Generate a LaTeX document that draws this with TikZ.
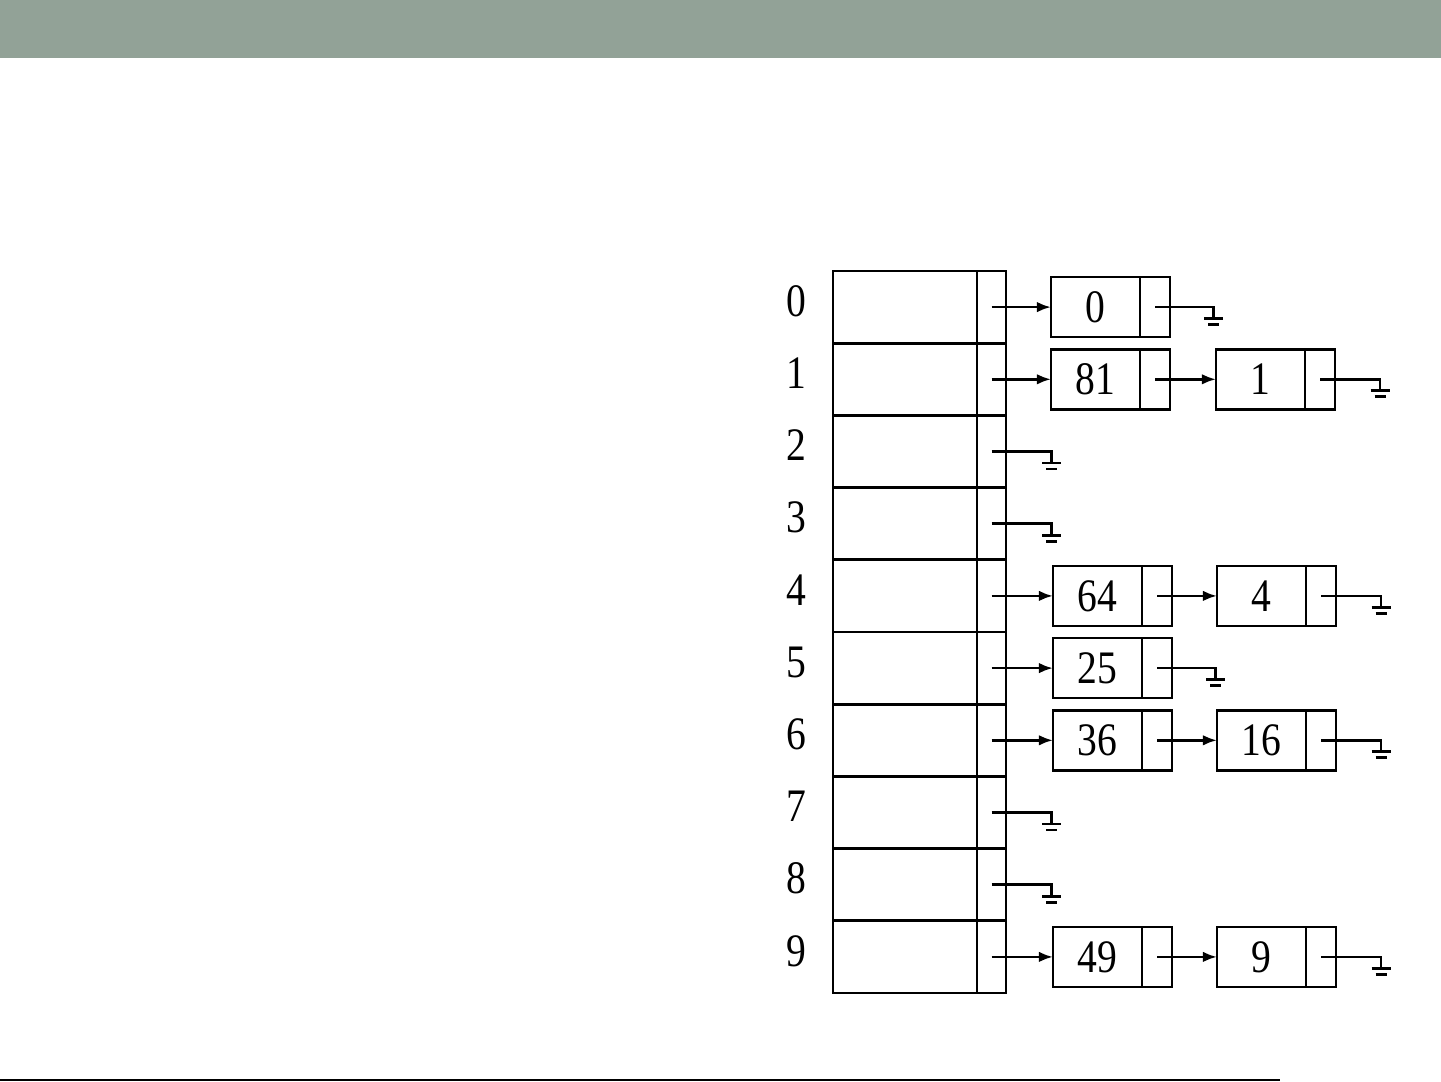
\documentclass[tikz,border=0pt]{standalone}
\usepackage{fontspec}
\setmainfont{Liberation Serif}
\newfontfamily\digitfont[FakeStretch=0.85]{Liberation Serif}
\usetikzlibrary{shapes,arrows.meta,positioning}
\definecolor{slidebar}{RGB}{146,162,151}

\begin{document}
\begin{tikzpicture}[line width=1.5pt,
    earth/.pic={\draw (-0.19,0) -- (0.19,0); \draw (-0.11,-0.12) -- (0.11,-0.12);}]

\tikzstyle{slot} = [rectangle, draw, outer sep=0pt, minimum width=2.88cm, minimum height=1.444cm]
\tikzstyle{link} = [rectangle, draw, outer sep=0pt, minimum width=0.58cm, minimum height=1.444cm]
\tikzstyle{key} = [rectangle, inner sep=0pt, yshift=3.4pt, font=\digitfont\fontsize{26.5}{30}\selectfont]
\tikzstyle{cell} = [rectangle, draw, outer sep=0pt, minimum width=1.78cm, minimum height=1.2cm, font=\digitfont\fontsize{26.5}{30}\selectfont]
\tikzstyle{ptr} = [rectangle, draw, outer sep=0pt, minimum width=0.6cm, minimum height=1.2cm]
\tikzstyle{line} = [draw, -{Latex[length=8pt,width=6pt]}]
\tikzstyle{nil} = [draw]

\useasboundingbox (0,0) rectangle (28.82,-21.62);
\fill [slidebar] (0,0) rectangle (28.82,-1.16);
\draw [line width=0.04cm] (0,-21.59) -- (25.6,-21.59);

% hash table
\node [slot, anchor=north west] (s0) at (16.66,-5.42) {};
\node [slot, below=0pt of s0] (s1) {};
\node [slot, below=0pt of s1] (s2) {};
\node [slot, below=0pt of s2] (s3) {};
\node [slot, below=0pt of s3] (s4) {};
\node [slot, below=0pt of s4] (s5) {};
\node [slot, below=0pt of s5] (s6) {};
\node [slot, below=0pt of s6] (s7) {};
\node [slot, below=0pt of s7] (s8) {};
\node [slot, below=0pt of s8] (s9) {};

\node [link, right=0pt of s0] (l0) {};
\node [link, right=0pt of s1] (l1) {};
\node [link, right=0pt of s2] (l2) {};
\node [link, right=0pt of s3] (l3) {};
\node [link, right=0pt of s4] (l4) {};
\node [link, right=0pt of s5] (l5) {};
\node [link, right=0pt of s6] (l6) {};
\node [link, right=0pt of s7] (l7) {};
\node [link, right=0pt of s8] (l8) {};
\node [link, right=0pt of s9] (l9) {};

\node [key, left=0.5cm of s0] (k0) {0};
\node [key, left=0.5cm of s1] (k1) {1};
\node [key, left=0.5cm of s2] (k2) {2};
\node [key, left=0.5cm of s3] (k3) {3};
\node [key, left=0.5cm of s4] (k4) {4};
\node [key, left=0.5cm of s5] (k5) {5};
\node [key, left=0.5cm of s6] (k6) {6};
\node [key, left=0.5cm of s7] (k7) {7};
\node [key, left=0.5cm of s8] (k8) {8};
\node [key, left=0.5cm of s9] (k9) {9};

% chains
\node [cell, right=0.9cm of l0] (a0) {0};
\node [ptr, right=0pt of a0] (p0) {};
\node [cell, right=0.9cm of l1] (a1) {81};
\node [ptr, right=0pt of a1] (p1) {};
\node [cell, right=0.92cm of p1] (b1) {1};
\node [ptr, right=0pt of b1] (q1) {};
\node [cell, right=0.94cm of l4] (a4) {64};
\node [ptr, right=0pt of a4] (p4) {};
\node [cell, right=0.9cm of p4] (b4) {4};
\node [ptr, right=0pt of b4] (q4) {};
\node [cell, right=0.94cm of l5] (a5) {25};
\node [ptr, right=0pt of a5] (p5) {};
\node [cell, right=0.94cm of l6] (a6) {36};
\node [ptr, right=0pt of a6] (p6) {};
\node [cell, right=0.9cm of p6] (b6) {16};
\node [ptr, right=0pt of b6] (q6) {};
\node [cell, right=0.94cm of l9] (a9) {49};
\node [ptr, right=0pt of a9] (p9) {};
\node [cell, right=0.9cm of p9] (b9) {9};
\node [ptr, right=0pt of b9] (q9) {};

\path [line] (l0.center) -- (a0);
\path [line] (l1.center) -- (a1);
\path [line] (p1.center) -- (b1);
\path [line] (l4.center) -- (a4);
\path [line] (p4.center) -- (b4);
\path [line] (l5.center) -- (a5);
\path [line] (l6.center) -- (a6);
\path [line] (p6.center) -- (b6);
\path [line] (l9.center) -- (a9);
\path [line] (p9.center) -- (b9);

% null pointers
\path [nil] (p0.center) -- ++(1.17,0) -- ++(0,-0.23) pic {earth};
\path [nil] (q1.center) -- ++(1.2,0) -- ++(0,-0.23) pic {earth};
\path [nil] (l2.center) -- ++(1.2,0) -- ++(0,-0.23) pic {earth};
\path [nil] (l3.center) -- ++(1.2,0) -- ++(0,-0.23) pic {earth};
\path [nil] (q4.center) -- ++(1.2,0) -- ++(0,-0.23) pic {earth};
\path [nil] (p5.center) -- ++(1.17,0) -- ++(0,-0.23) pic {earth};
\path [nil] (q6.center) -- ++(1.2,0) -- ++(0,-0.23) pic {earth};
\path [nil] (l7.center) -- ++(1.2,0) -- ++(0,-0.23) pic {earth};
\path [nil] (l8.center) -- ++(1.2,0) -- ++(0,-0.23) pic {earth};
\path [nil] (q9.center) -- ++(1.2,0) -- ++(0,-0.23) pic {earth};
\end{tikzpicture}
\end{document}
